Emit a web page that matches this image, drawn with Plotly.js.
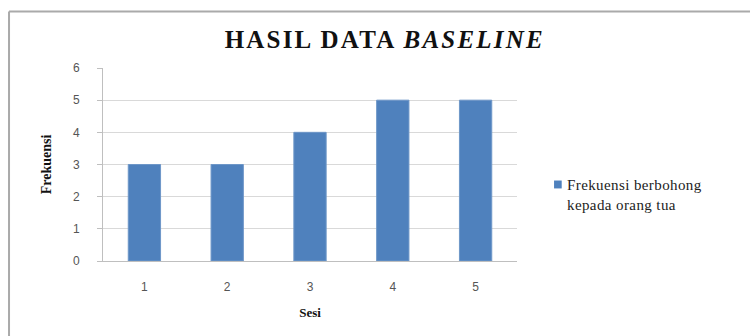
<!DOCTYPE html>
<html>
<head>
<meta charset="utf-8">
<script src="https://cdn.plot.ly/plotly-3.0.1.min.js"></script>
<style>
html,body{margin:0;padding:0;background:#fff;}
#chart{width:750px;height:336px;}
#chart .gtitle{letter-spacing:2.2px;}
#chart .annotation-text{letter-spacing:0.4px;}
</style>
</head>
<body>
<div id="chart"></div>
<script>
var sesi = ['1', '2', '3', '4', '5'];
var frekuensi = [3, 3, 4, 5, 5];
var seriesName = 'Frekuensi berbohong<br>kepada orang tua';
var yTicks = [0, 1, 2, 3, 4, 5, 6];
var barColor = '#4F81BD';

var trace = {
  type: 'bar',
  x: sesi,
  y: frekuensi,
  name: seriesName,
  marker: {color: barColor, line: {color: '#6E97C8', width: 1}},
  showlegend: false
};

var layout = {
  width: 750, height: 336,
  margin: {l: 103, r: 233, t: 68, b: 75},
  paper_bgcolor: '#fff', plot_bgcolor: '#fff',
  bargap: 0.61,
  title: {
    text: '<b>HASIL DATA <i>BASELINE</i></b>',
    font: {family: 'Liberation Serif, serif', size: 25, color: '#111'},
    x: 0.513, xanchor: 'center', y: 0.883, yanchor: 'middle'
  },
  xaxis: {
    type: 'category',
    showline: true, linecolor: '#BFBFBF', linewidth: 1,
    ticks: '', showgrid: false,
    ticklabelstandoff: 15,
    tickfont: {family: 'Liberation Sans, sans-serif', size: 12, color: '#555'},
    title: {text: '<b>Sesi</b>', font: {family: 'Liberation Serif, serif', size: 13, color: '#111'}, standoff: 14}
  },
  yaxis: {
    range: [0, 6], tickvals: yTicks, ticktext: yTicks.map(String),
    showline: true, linecolor: '#BFBFBF', linewidth: 1,
    ticks: 'outside', ticklen: 5, tickcolor: '#BFBFBF',
    showgrid: true, gridcolor: '#D9D9D9', gridwidth: 1,
    zeroline: false,
    ticklabelstandoff: 15,
    tickfont: {family: 'Liberation Sans, sans-serif', size: 12, color: '#555'},
    title: {text: '<b>Frekuensi</b>', font: {family: 'Liberation Serif, serif', size: 14, color: '#111'}, standoff: 18}
  },
  annotations: [
    {xref: 'paper', yref: 'paper', x: 1.115, y: 0.445, xanchor: 'left', yanchor: 'top',
     text: seriesName, showarrow: false, align: 'left',
     font: {family: 'Liberation Serif, serif', size: 15, color: '#222'}}
  ],
  shapes: [
    {type: 'rect', xref: 'paper', yref: 'paper', x0: 1.0895, x1: 1.108, y0: 0.376, y1: 0.417,
     fillcolor: barColor, line: {width: 0}},
    {type: 'line', xref: 'paper', yref: 'paper', x0: -0.227, x1: 1.6, y0: 1.293, y1: 1.293, line: {color: '#AAAAAA', width: 2}},
    {type: 'line', xref: 'paper', yref: 'paper', x0: -0.227, x1: -0.227, y0: 1.293, y1: -0.4, line: {color: '#AAAAAA', width: 2}}
  ]
};

Plotly.newPlot('chart', [trace], layout, {displayModeBar: false, staticPlot: true});
</script>
</body>
</html>
